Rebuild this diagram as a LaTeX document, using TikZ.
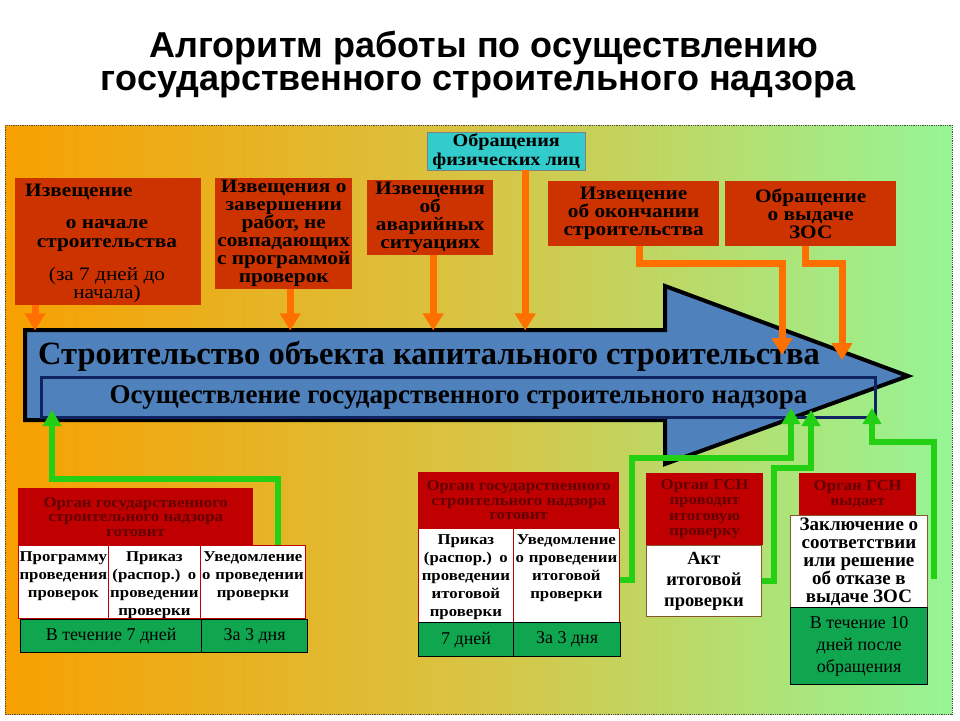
\documentclass[tikz,border=0pt]{standalone}
\usepackage{fontspec}
\setmainfont{Liberation Serif}
\newfontfamily\widefont[FakeStretch=1.12]{Liberation Serif}
\newfontfamily\titlefont{Liberation Sans}
\usetikzlibrary{arrows.meta}

\definecolor{bgorange}{RGB}{247,160,0}
\definecolor{bgyellow}{RGB}{216,196,68}
\definecolor{bggreen}{RGB}{150,245,150}
\definecolor{rustred}{RGB}{204,51,0}
\definecolor{darkred}{RGB}{192,0,0}
\definecolor{orgtext}{RGB}{100,0,0}
\definecolor{cellgreen}{RGB}{16,166,80}
\definecolor{arrowblue}{RGB}{79,129,189}
\definecolor{navy}{RGB}{16,36,96}
\definecolor{linkorange}{RGB}{255,112,0}
\definecolor{linkgreen}{RGB}{36,208,20}
\definecolor{cyanbox}{RGB}{51,204,204}

\begin{document}
\begin{tikzpicture}[x=1pt, y=-1pt,
    rustbox/.style={fill=rustred, inner sep=0pt, anchor=north west, align=center,
      font=\widefont\bfseries\fontsize{19}{18}\selectfont},
    rusttext/.style={inner sep=0pt, align=center,
      font=\widefont\bfseries\fontsize{19}{19}\selectfont},
    orgbox/.style={fill=darkred, text=orgtext, inner sep=0pt, anchor=north west, align=center,
      font=\widefont\bfseries\fontsize{15}{14.5}\selectfont},
    cellbox/.style={fill=white, draw=darkred, line width=0.8, anchor=north west, align=center,
      inner xsep=0pt, inner ysep=5.5pt, text height=11pt, text depth=51pt,
      font=\widefont\bfseries\fontsize{15}{18}\selectfont},
    daybox/.style={fill=cellgreen, draw=black, line width=1.2, anchor=north west, inner sep=0pt,
      minimum height=33, font=\fontsize{18}{22}\selectfont, align=center},
    actbox/.style={fill=white, draw=brown!70!black, line width=0.8, anchor=north west, inner sep=0pt,
      align=center, font=\bfseries\fontsize{19}{18}\selectfont},
    titletext/.style={anchor=base, inner sep=0pt, font=\titlefont\bfseries\fontsize{36}{38}\selectfont},
    orangelink/.style={draw=linkorange, line width=7, -{Triangle[width=20, length=17]}},
    greenlink/.style={draw=linkgreen, line width=6, -{Triangle[width=18, length=16]}}
    ]
    \fill[white] (0,0) rectangle (960,720);
    \useasboundingbox (0,0) rectangle (960,720);
    % background panel
    \shade[left color=bgorange, right color=bggreen, middle color=bgyellow] (5,125) rectangle (952,714);
    \draw[densely dotted, gray!60!black, line width=0.8] (5,125) rectangle (952,714);

    \node[titletext] (title1) at (484,57) {Алгоритм работы по осуществлению};
    \node[titletext] (title2) at (478,90) {государственного строительного надзора};

    % the big arrow
    \draw[line width=4, fill=arrowblue] (25,330) -- (665,330) -- (665,286) -- (908,376)
      -- (665,464) -- (665,420) -- (25,420) -- cycle;
    \node[font=\bfseries\fontsize{32.5}{34}\selectfont, anchor=west, inner sep=0pt] (build) at (38,356) {Строительство объекта капитального строительства};
    \node[draw=navy, line width=3, anchor=north west, inner sep=0pt, minimum width=834, minimum height=40,
      font=\bfseries\fontsize{27}{30}\selectfont] (gsn) at (40,376) {Осуществление государственного строительного надзора};

    % notices on top
    \node[rustbox, minimum width=186, minimum height=127] (start) at (15,178) {};
    \node[rusttext, anchor=west] (startA) at (25,192) {Извещение};
    \node[rusttext] (startB) at (107,236) {о начале\\строительства};
    \node[rusttext, font=\widefont\fontsize{19}{17.5}\selectfont] (startC) at (107,285) {(за 7 дней до\\начала)};
    \node[rustbox, minimum width=137, minimum height=111] (finished) at (215,178) {Извещения о\\завершении\\работ, не\\совпадающих\\с программой\\проверок};
    \node[rustbox, minimum width=126, minimum height=75] (accident) at (367,180) {Извещения\\об\\аварийных\\ситуациях};
    \node[rustbox, fill=cyanbox, draw=gray, minimum width=158, minimum height=38,
      font=\widefont\bfseries\fontsize{18}{19}\selectfont] (people) at (427,132) {Обращения\\физических лиц};
    \node[rustbox, minimum width=171, minimum height=65] (finish) at (548,181) {Извещение\\об окончании\\строительства};
    \node[rustbox, minimum width=171, minimum height=65] (zos) at (725,181) {Обращение\\о выдаче\\ЗОС};

    \coordinate (finishtip) at (782,355);
    \coordinate (zostip) at (842,360);
    \draw[orangelink] ([xshift=20]start.south west) -- ++(0,25);
    \draw[orangelink] ([xshift=6.5]finished.south) -- ++(0,41);
    \draw[orangelink] ([xshift=3]accident.south) -- ++(0,75);
    \draw[orangelink] ([xshift=19]people.south) -- ++(0,160);
    \draw[orangelink] ([xshift=5.5]finish.south) -- ++(0,17) -| (finishtip);
    \draw[orangelink] ([xshift=-5.5]zos.south) -- ++(0,17) -| (zostip);

    % left group
    \node[orgbox, minimum width=235, minimum height=57] (prepare) at (18,488) {Орган государственного\\строительного надзора\\готовит};
    \node[cellbox, text width=90] (program) at (18,545) {Программу\\проведения\\проверок};
    \node[cellbox, text width=92] (order) at (108,545) {Приказ\\(распор.) о\\проведении\\проверки};
    \node[cellbox, text width=105] (notice) at (200,545) {Уведомление\\о проведении\\проверки};
    \node[daybox, minimum width=181] (week) at (20,619) {В течение 7 дней};
    \node[daybox, minimum width=106] (threedays) at (201,619) {За 3 дня};

    % middle group
    \node[orgbox, minimum width=201, minimum height=56] (prepare2) at (418,472) {Орган государственного\\строительного надзора\\готовит};
    \node[cellbox, text width=95, text depth=72pt] (order2) at (418,528) {Приказ\\(распор.) о\\проведении\\итоговой\\проверки};
    \node[cellbox, text width=106, text depth=72pt] (notice2) at (513,528) {Уведомление\\о проведении\\итоговой\\проверки};
    \node[daybox, minimum width=95, minimum height=34] (week2) at (418,622) {7 дней};
    \node[daybox, minimum width=107, minimum height=34] (threedays2) at (513,622) {За 3 дня};

    % right groups
    \node[orgbox, minimum width=117, minimum height=72, font=\widefont\bfseries\fontsize{15}{15.5}\selectfont] (inspect) at (646,473) {Орган ГСН\\проводит\\итоговую\\проверку};
    \node[actbox, minimum width=115, minimum height=71, font=\bfseries\fontsize{18.5}{21}\selectfont] (act) at (646,545) {Акт\\итоговой\\проверки};
    \node[orgbox, minimum width=117, minimum height=42] (issue) at (799,473) {Орган ГСН\\выдает};
    \node[actbox, minimum width=137, minimum height=92] (conclusion) at (790,515) {Заключение о\\соответствии\\или решение\\об отказе в\\выдаче ЗОС};
    \node[daybox, minimum width=137, minimum height=77] (tendays) at (790,607) {В течение 10\\дней после\\обращения};

    \coordinate (tipA) at (52,410);
    \coordinate (tipB) at (791,408);
    \coordinate (tipC) at (811,410);
    \coordinate (tipD) at (872,408);
    \draw[greenlink] ([xshift=-28]notice.north east) -- ++(0,-66) -| (tipA);
    \draw[greenlink] ([yshift=-5]notice2.east) -- ++(12,0) -- ++(0,-122) -| (tipB);
    \draw[greenlink] (act.east) -- ++(12,0) -- ++(0,-113) -| (tipC);
    \draw[greenlink] ([xshift=6,yshift=-18]conclusion.east) -- ++(0,-137) -| (tipD);
  \end{tikzpicture}
\end{document}
